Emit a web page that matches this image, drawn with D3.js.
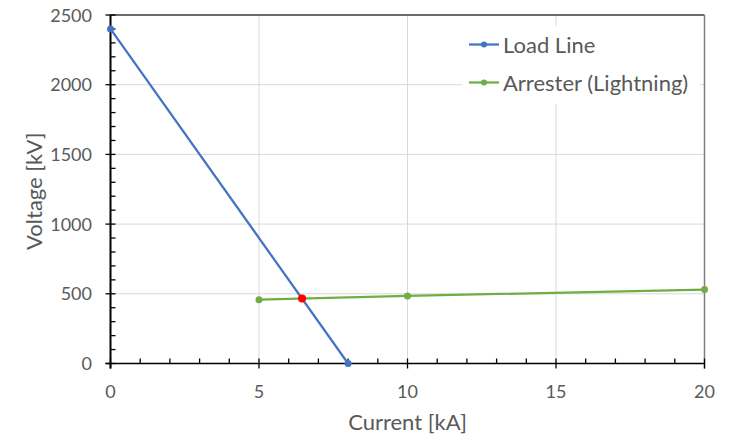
<!DOCTYPE html>
<html>
<head>
<meta charset="utf-8">
<script src="https://cdn.jsdelivr.net/npm/d3@7"></script>
<style>
  body { margin: 0; background: #fff; }
  svg { display: block; font-family: Lato, "Open Sans", sans-serif; }
</style>
</head>
<body>
<svg id="chart" width="733" height="436"></svg>
<script>
// Load line and arrester characteristic (current in kA, voltage in kV)
const loadCurrent = [0, 8];
const loadVoltage = [2400, 0];
const arresterCurrent = [5, 10, 20];
const arresterVoltage = [458, 485, 530];
const operatingPoint = [6.45, 466];
const xTicks = [0, 5, 10, 15, 20];
const yTicks = [0, 500, 1000, 1500, 2000, 2500];
const seriesNames = ["Load Line", "Arrester (Lightning)"];
const seriesColors = ["#4472C4", "#70AD47"];

const svg = d3.select("#chart");
const m = { left: 110.5, right: 704.5, top: 15, bottom: 363.5 };
const x = d3.scaleLinear().domain([0, 20]).range([m.left, m.right]);
const y = d3.scaleLinear().domain([0, 2500]).range([m.bottom, m.top]);

// gridlines
const grid = svg.append("g").attr("stroke", "#d9d9d9").attr("stroke-width", 1);
grid.selectAll("line.v").data(xTicks.slice(1)).join("line")
  .attr("x1", d => x(d)).attr("x2", d => x(d)).attr("y1", m.top).attr("y2", m.bottom);
grid.selectAll("line.h").data(yTicks.slice(1)).join("line")
  .attr("x1", m.left).attr("x2", m.right).attr("y1", d => y(d)).attr("y2", d => y(d));

// plot frame
svg.append("line").attr("x1", m.left).attr("x2", m.right).attr("y1", m.top).attr("y2", m.top)
  .attr("stroke", "#404040").attr("stroke-width", 1.5);
svg.append("line").attr("x1", m.right).attr("x2", m.right).attr("y1", m.top).attr("y2", m.bottom + 5)
  .attr("stroke", "#808080").attr("stroke-width", 1.5);

// axes: minor ticks inside, major ticks crossing
const xMinor = d3.range(0, 21, 1).filter(v => v % 5 !== 0);
const yMinor = d3.range(0, 2501, 100).filter(v => v % 500 !== 0);
const ax = svg.append("g").attr("stroke", "#000").attr("stroke-width", 1.3);
ax.selectAll("line.xm").data(xMinor).join("line")
  .attr("x1", d => x(d)).attr("x2", d => x(d)).attr("y1", m.bottom).attr("y2", m.bottom - 5);
ax.selectAll("line.xM").data(xTicks).join("line")
  .attr("x1", d => x(d)).attr("x2", d => x(d)).attr("y1", m.bottom - 5).attr("y2", m.bottom + 5);
ax.selectAll("line.ym").data(yMinor).join("line")
  .attr("x1", m.left).attr("x2", m.left + 5).attr("y1", d => y(d)).attr("y2", d => y(d));
ax.selectAll("line.yM").data(yTicks).join("line")
  .attr("x1", m.left - 5).attr("x2", m.left + 5).attr("y1", d => y(d)).attr("y2", d => y(d));
svg.append("line").attr("x1", m.left).attr("x2", m.left).attr("y1", m.top).attr("y2", m.bottom + 5)
  .attr("stroke", "#000").attr("stroke-width", 2);
svg.append("line").attr("x1", m.left - 5).attr("x2", m.right).attr("y1", m.bottom).attr("y2", m.bottom)
  .attr("stroke", "#000").attr("stroke-width", 1.5);

// tick labels
svg.append("g").selectAll("text").data(xTicks).join("text")
  .attr("x", d => x(d)).attr("y", 398).attr("text-anchor", "middle")
  .attr("font-size", 18).attr("fill", "#595959").text(d => d);
svg.append("g").selectAll("text").data(yTicks).join("text")
  .attr("x", 92).attr("y", d => y(d) + 6.5).attr("text-anchor", "end")
  .attr("font-size", 18).attr("fill", "#595959").text(d => d);

// axis titles
svg.append("text").attr("x", (m.left + m.right) / 2).attr("y", 430).attr("text-anchor", "middle")
  .attr("font-size", 22).attr("fill", "#595959").text("Current [kA]");
svg.append("text").attr("transform", `translate(42,${(m.top + m.bottom) / 2 + 2}) rotate(-90)`)
  .attr("text-anchor", "middle").attr("font-size", 22).attr("fill", "#595959").text("Voltage [kV]");

// series
const line = d3.line().x(d => x(d[0])).y(d => y(d[1]));
const series = [
  d3.zip(loadCurrent, loadVoltage),
  d3.zip(arresterCurrent, arresterVoltage)
];
series.forEach((pts, i) => {
  svg.append("path").datum(pts).attr("d", line).attr("fill", "none")
    .attr("stroke", seriesColors[i]).attr("stroke-width", 2.25);
  svg.append("g").selectAll("circle").data(pts).join("circle")
    .attr("cx", d => x(d[0])).attr("cy", d => y(d[1])).attr("r", 3.5)
    .attr("fill", seriesColors[i]);
});
svg.append("circle").attr("cx", x(operatingPoint[0])).attr("cy", y(operatingPoint[1]))
  .attr("r", 4).attr("fill", "#FF0000");

// legend
svg.append("rect").attr("x", 462).attr("y", 26).attr("width", 238).attr("height", 78).attr("fill", "#fff");
const lg = svg.append("g").selectAll("g").data(seriesNames).join("g")
  .attr("transform", (d, i) => `translate(469,${44.5 + i * 38})`);
lg.append("line").attr("x1", 0).attr("x2", 30).attr("stroke", (d, i) => seriesColors[i]).attr("stroke-width", 2.25);
lg.append("circle").attr("cx", 15).attr("r", 3).attr("fill", (d, i) => seriesColors[i]);
lg.append("text").attr("x", 34).attr("y", 8).attr("font-size", 22).attr("fill", "#595959").text(d => d);
</script>
</body>
</html>
